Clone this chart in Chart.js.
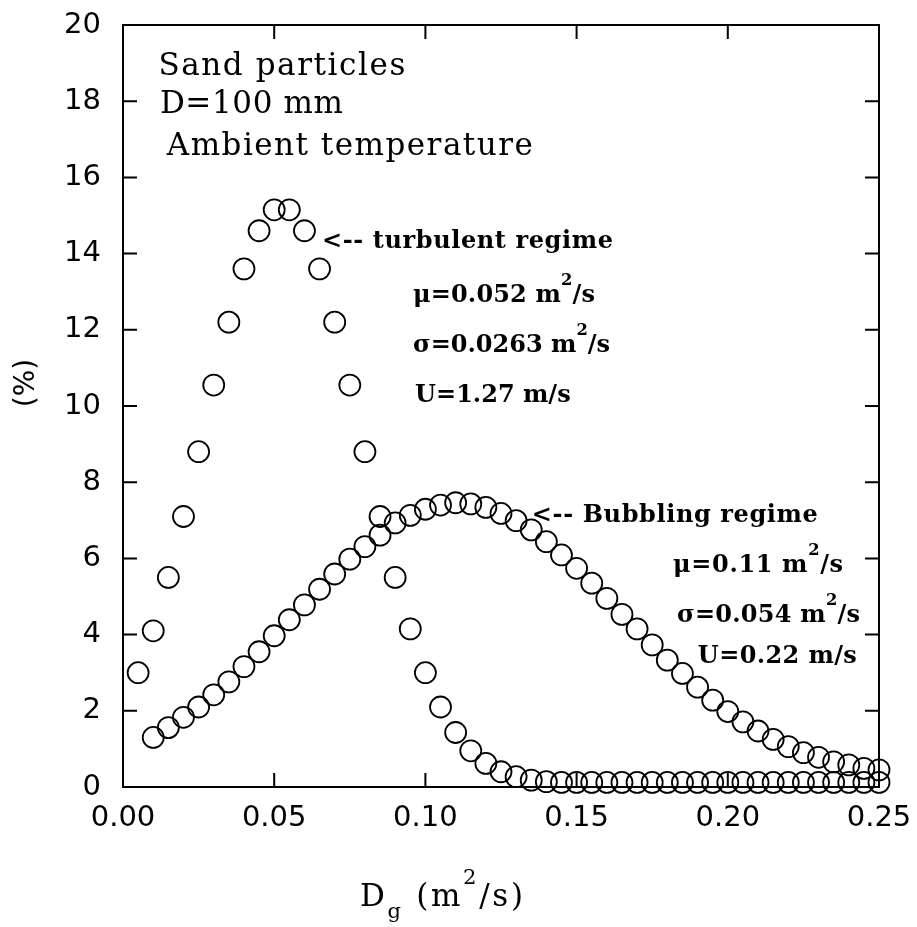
<!DOCTYPE html>
<html>
<head>
<meta charset="utf-8">
<title>Dg distribution</title>
<script src="https://cdn.jsdelivr.net/npm/chart.js@4.4.0/dist/chart.umd.min.js"></script>
<style>
  html, body { margin: 0; padding: 0; background: #fff; }
  #chart { display: block; }
</style>
</head>
<body>
<canvas id="chart" width="917" height="927"></canvas>
<script>
// D_g values (m^2/s) shared by both series
const dg = [
  0.005, 0.010, 0.015, 0.020, 0.025, 0.030, 0.035, 0.040, 0.045, 0.050,
  0.055, 0.060, 0.065, 0.070, 0.075, 0.080, 0.085, 0.090, 0.095, 0.100,
  0.105, 0.110, 0.115, 0.120, 0.125, 0.130, 0.135, 0.140, 0.145, 0.150,
  0.155, 0.160, 0.165, 0.170, 0.175, 0.180, 0.185, 0.190, 0.195, 0.200,
  0.205, 0.210, 0.215, 0.220, 0.225, 0.230, 0.235, 0.240, 0.245, 0.250
];

// turbulent regime (%)
const turbulent = [
  3.0, 4.1, 5.5, 7.1, 8.8, 10.55, 12.2, 13.6, 14.6, 15.15,
  15.15, 14.6, 13.6, 12.2, 10.55, 8.8, 7.1, 5.5, 4.15, 3.0,
  2.1, 1.43, 0.95, 0.62, 0.40, 0.27, 0.18, 0.14, 0.12, 0.12,
  0.12, 0.12, 0.12, 0.12, 0.12, 0.12, 0.12, 0.12, 0.12, 0.12,
  0.12, 0.12, 0.12, 0.12, 0.12, 0.12, 0.12, 0.12, 0.12, 0.12
];

// bubbling regime (%), no point at 0.005
const bubbling = [
  null, 1.3, 1.56, 1.83, 2.1, 2.42, 2.76, 3.16, 3.55, 3.97,
  4.39, 4.78, 5.19, 5.59, 5.98, 6.31, 6.61, 6.93, 7.13, 7.29,
  7.40, 7.46, 7.43, 7.34, 7.18, 6.99, 6.75, 6.44, 6.09, 5.74,
  5.35, 4.95, 4.53, 4.15, 3.73, 3.33, 2.98, 2.62, 2.28, 1.98,
  1.71, 1.47, 1.25, 1.06, 0.90, 0.78, 0.66, 0.58, 0.49, 0.45
];

const xTicks = [0, 0.05, 0.10, 0.15, 0.20, 0.25];
const yTicks = [0, 2, 4, 6, 8, 10, 12, 14, 16, 18, 20];

const toPoints = (ys) => dg.map((x, i) => ({ x, y: ys[i] })).filter(p => p.y !== null);

// text inside the plot, anchored in data units (left edge, baseline)
const notes = [
  { parts: [['Sand particles']], x: 0.0117, y: 18.69, w: 247, size: 31, weight: 'normal' },
  { parts: [['D=100 mm']], x: 0.0122, y: 17.69, w: 183, size: 31, weight: 'normal' },
  { parts: [['Ambient temperature']], x: 0.0145, y: 16.59, w: 366, size: 31, weight: 'normal' },
  { parts: [['<-- turbulent regime']], x: 0.0658, y: 14.15, w: 291, size: 24, weight: 'bold' },
  { parts: [['\u03bc=0.052 m'], ['2', 'sup'], ['/s']], x: 0.0959, y: 12.73, w: 182, size: 24, weight: 'bold' },
  { parts: [['\u03c3=0.0263 m'], ['2', 'sup'], ['/s']], x: 0.0959, y: 11.42, w: 195, size: 24, weight: 'bold' },
  { parts: [['U=1.27 m/s']], x: 0.0966, y: 10.10, w: 155, size: 24, weight: 'bold' },
  { parts: [['<-- Bubbling regime']], x: 0.1352, y: 6.955, w: 286, size: 24, weight: 'bold' },
  { parts: [['\u03bc=0.11 m'], ['2', 'sup'], ['/s']], x: 0.1819, y: 5.64, w: 170, size: 24, weight: 'bold' },
  { parts: [['\u03c3=0.054 m'], ['2', 'sup'], ['/s']], x: 0.1832, y: 4.33, w: 183, size: 24, weight: 'bold' },
  { parts: [['U=0.22 m/s']], x: 0.1901, y: 3.255, w: 159, size: 24, weight: 'bold' }
];

const SERIF = '"DejaVu Serif", serif';
const SANS = '"DejaVu Sans", sans-serif';
const TICK = 14;

const partSize = (kind, size) => kind ? size * 0.68 : size;

// natural width and glyph count of a rich string
function richMeasure(ctx, parts, size, weight) {
  let w = 0, n = 0;
  parts.forEach(([t, kind]) => {
    ctx.font = `${weight} ${partSize(kind, size)}px ${SERIF}`;
    for (const ch of t) { w += ctx.measureText(ch).width; n++; }
  });
  return { w, n };
}

// draws char by char so the spacing can be widened to the reference width
function drawRich(ctx, parts, x, y, size, weight, targetW) {
  const m = richMeasure(ctx, parts, size, weight);
  const gap = targetW ? Math.max((targetW - m.w) / Math.max(m.n - 1, 1), 0) : 0;
  let cx = x;
  parts.forEach(([t, kind]) => {
    ctx.font = `${weight} ${partSize(kind, size)}px ${SERIF}`;
    const dy = kind === 'sup' ? -size * 0.72 : kind === 'sub' ? size * 0.38 : 0;
    for (const ch of t) {
      ctx.fillText(ch, cx, y + dy);
      cx += ctx.measureText(ch).width + gap;
    }
  });
}

const framePlugin = {
  id: 'frame',
  beforeDatasetsDraw(chart) {
    const { ctx, chartArea: a, scales: { x, y } } = chart;
    ctx.save();
    ctx.strokeStyle = '#000';
    ctx.lineWidth = 2;
    ctx.strokeRect(a.left, a.top, a.right - a.left, a.bottom - a.top);
    ctx.beginPath();
    xTicks.forEach(v => {
      const px = x.getPixelForValue(v);
      ctx.moveTo(px, a.bottom); ctx.lineTo(px, a.bottom - TICK);
      ctx.moveTo(px, a.top); ctx.lineTo(px, a.top + TICK);
    });
    yTicks.forEach(v => {
      const py = y.getPixelForValue(v);
      ctx.moveTo(a.left, py); ctx.lineTo(a.left + TICK, py);
      ctx.moveTo(a.right, py); ctx.lineTo(a.right - TICK, py);
    });
    ctx.stroke();
    ctx.restore();
  },
  afterDraw(chart) {
    const { ctx, scales: { x, y } } = chart;
    ctx.save();
    ctx.fillStyle = '#000';
    ctx.textBaseline = 'alphabetic';
    ctx.textAlign = 'left';

    notes.forEach(n => {
      drawRich(ctx, n.parts, x.getPixelForValue(n.x), y.getPixelForValue(n.y), n.size, n.weight, n.w);
    });

    // x axis title
    drawRich(ctx, [['D'], ['g', 'sub'], [' (m'], ['2', 'sup'], ['/s)']], 360, 906, 31, 'normal', 163);

    // y axis title
    ctx.translate(27, 383);
    ctx.rotate(-Math.PI / 2);
    ctx.textAlign = 'center';
    ctx.textBaseline = 'middle';
    ctx.font = `28px ${SANS}`;
    ctx.fillText('(%)', 0, 0);
    ctx.restore();
  }
};

const pointStyle = {
  showLine: false,
  pointStyle: 'circle',
  pointRadius: 10.5,
  pointHoverRadius: 10.5,
  pointBorderWidth: 1.8,
  borderColor: '#000',
  backgroundColor: 'rgba(0,0,0,0)',
  clip: false
};

new Chart(document.getElementById('chart'), {
  type: 'scatter',
  data: {
    datasets: [
      { label: 'Turbulent regime', data: toPoints(turbulent), ...pointStyle },
      { label: 'Bubbling regime', data: toPoints(bubbling), ...pointStyle }
    ]
  },
  options: {
    responsive: false,
    animation: false,
    layout: { padding: { top: 25, right: 38, left: 0, bottom: 0 } },
    plugins: {
      legend: { display: false },
      tooltip: { enabled: false }
    },
    scales: {
      x: {
        type: 'linear',
        min: 0,
        max: 0.25,
        afterBuildTicks: (s) => { s.ticks = xTicks.map(v => ({ value: v })); },
        afterFit: (s) => { s.height = 140; s.paddingLeft = 0; s.paddingRight = 0; },
        grid: { display: false, drawTicks: false },
        border: { display: false },
        ticks: {
          color: '#000',
          padding: 14,
          maxRotation: 0,
          font: { family: SANS, size: 29 },
          callback: (v) => Number(v).toFixed(2)
        }
      },
      y: {
        type: 'linear',
        min: 0,
        max: 20,
        afterBuildTicks: (s) => { s.ticks = yTicks.map(v => ({ value: v })); },
        afterFit: (s) => { s.width = 123; s.paddingTop = 0; s.paddingBottom = 0; },
        grid: { display: false, drawTicks: false },
        border: { display: false },
        ticks: {
          color: '#000',
          padding: 22,
          font: { family: SANS, size: 29 },
          callback: (v) => String(v)
        }
      }
    }
  },
  plugins: [framePlugin]
});
</script>
</body>
</html>
